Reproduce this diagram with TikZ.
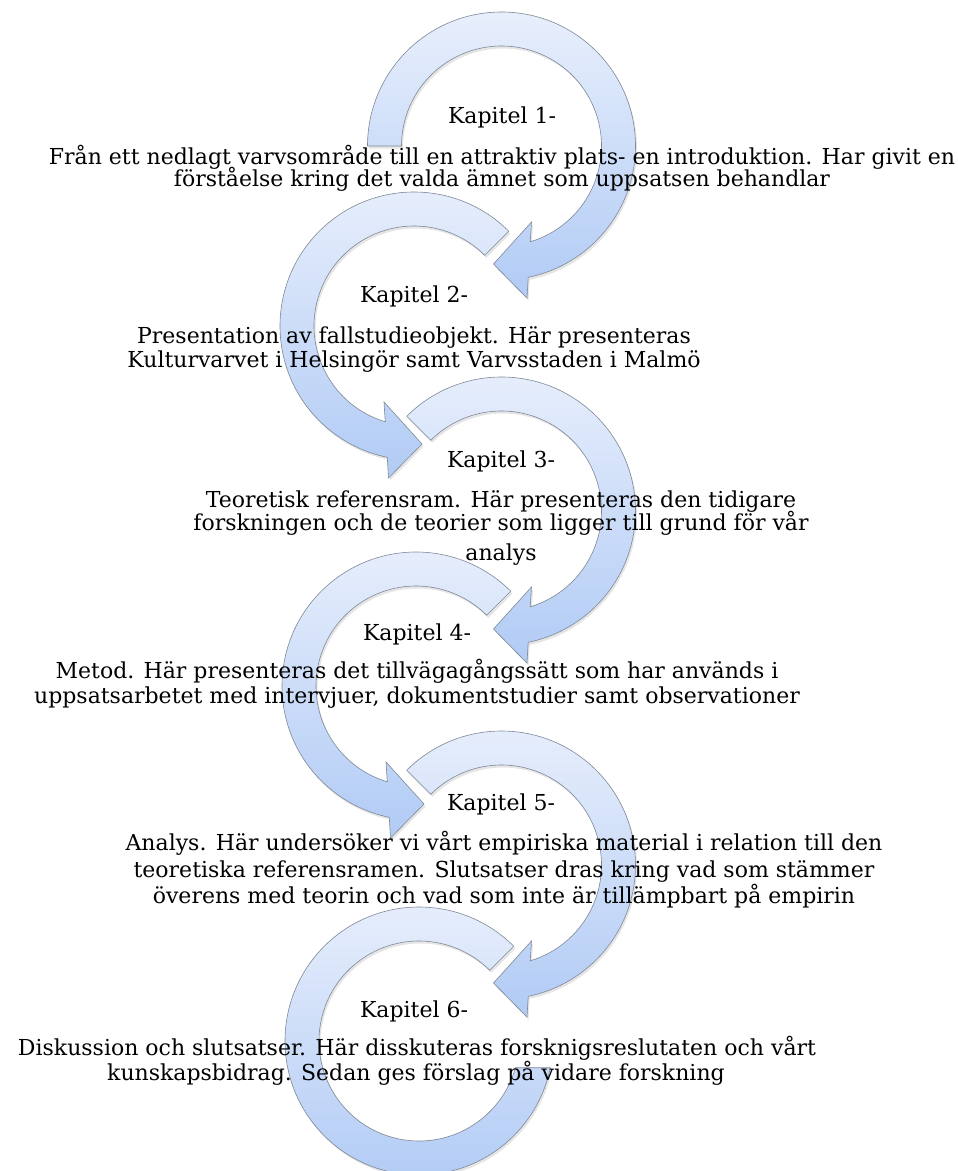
\documentclass[tikz,border=0pt]{standalone}
\usepackage{fontspec}
\setmainfont{DejaVu Serif}
\definecolor{arrowtop}{HTML}{E8EFFC}
\definecolor{arrowbot}{HTML}{B1CBF5}
\definecolor{arrowedge}{HTML}{7F8896}
\begin{document}
\begin{tikzpicture}[x=1pt,y=1pt,
  arrowfill/.style={draw=arrowedge, line width=0.6pt, top color=arrowtop, bottom color=arrowbot, line join=miter},
  arrowshadow/.style={fill=black, opacity=0.10, draw=none},
  cwshape/.style={insert path={(#1:134) arc[start angle=#1, end angle=-78.5, radius=134] -- (25.5,-152) -- (-8,-118) -- (30,-76) -- (-73.3:100) arc[start angle=-73.3, end angle=#1, radius=100] -- cycle}},
  ccwshape/.style={insert path={(#1:134) arc[start angle=#1, end angle=258.5, radius=134] -- (-25.5,-152) -- (8,-118) -- (-30,-76) -- (253.3:100) arc[start angle=253.3, end angle=#1, radius=100] -- cycle}},
  lastshape/.style={insert path={(#1:134) arc[start angle=#1, end angle=348.5, radius=134] -- (344.5:100) arc[start angle=344.5, end angle=#1, radius=100] -- cycle}},
  txt/.style={font=\fontsize{22}{26}\selectfont, anchor=base, inner sep=0pt}]
\useasboundingbox (0,0) rectangle (958,-1171);
\clip (0,0) rectangle (958,-1171);
% arrow 1
\path[arrowshadow, shift={(503,-148.5)}, cwshape=180];
\path[arrowfill, shift={(501.5,-146)}, cwshape=180];
% arrow 2
\path[arrowshadow, shift={(415.5,-328.5)}, ccwshape=45];
\path[arrowfill, shift={(414,-326)}, ccwshape=45];
% arrow 3
\path[arrowshadow, shift={(503,-513.5)}, cwshape=135];
\path[arrowfill, shift={(501.5,-511)}, cwshape=135];
% arrow 4
\path[arrowshadow, shift={(417.5,-688.5)}, ccwshape=45];
\path[arrowfill, shift={(416,-686)}, ccwshape=45];
% arrow 5
\path[arrowshadow, shift={(503,-867.5)}, cwshape=135];
\path[arrowfill, shift={(501.5,-865)}, cwshape=135];
% arrow 6
\path[arrowshadow, shift={(420.5,-1043.5)}, lastshape=45];
\path[arrowfill, shift={(419,-1041)}, lastshape=45];
% texts
\node[txt] (k1) at (502,-123) {Kapitel 1-};
\node[txt] (t1a) at (502,-164) {Från ett nedlagt varvsområde till en attraktiv plats- en introduktion. Har givit en};
\node[txt] (t1b) at (502,-186) {förståelse kring det valda ämnet som uppsatsen behandlar};
\node[txt] (k2) at (414,-302) {Kapitel 2-};
\node[txt] (t2a) at (414,-343) {Presentation av fallstudieobjekt. Här presenteras};
\node[txt] (t2b) at (414,-367) {Kulturvarvet i Helsingör samt Varvsstaden i Malmö};
\node[txt] (k3) at (501,-467) {Kapitel 3-};
\node[txt] (t3a) at (501,-507) {Teoretisk referensram. Här presenteras den tidigare};
\node[txt] (t3b) at (501,-530) {forskningen och de teorier som ligger till grund för vår};
\node[txt] (t3c) at (501,-560) {analys};
\node[txt] (k4) at (417,-640) {Kapitel 4-};
\node[txt] (t4a) at (417,-678) {Metod. Här presenteras det tillvägagångssätt som har används i};
\node[txt] (t4b) at (417,-703) {uppsatsarbetet med intervjuer, dokumentstudier samt observationer};
\node[txt] (k5) at (501,-810) {Kapitel 5-};
\node[txt] (t5a) at (504,-850) {Analys. Här undersöker vi vårt empiriska material i relation till den};
\node[txt] (t5b) at (504,-877) {teoretiska referensramen. Slutsatser dras kring vad som stämmer};
\node[txt] (t5c) at (504,-903) {överens med teorin och vad som inte är tillämpbart på empirin};
\node[txt] (k6) at (414,-1017) {Kapitel 6-};
\node[txt] (t6a) at (417,-1055) {Diskussion och slutsatser. Här disskuteras forsknigsreslutaten och vårt};
\node[txt] (t6b) at (416,-1080) {kunskapsbidrag. Sedan ges förslag på vidare forskning};
\end{tikzpicture}
\end{document}
